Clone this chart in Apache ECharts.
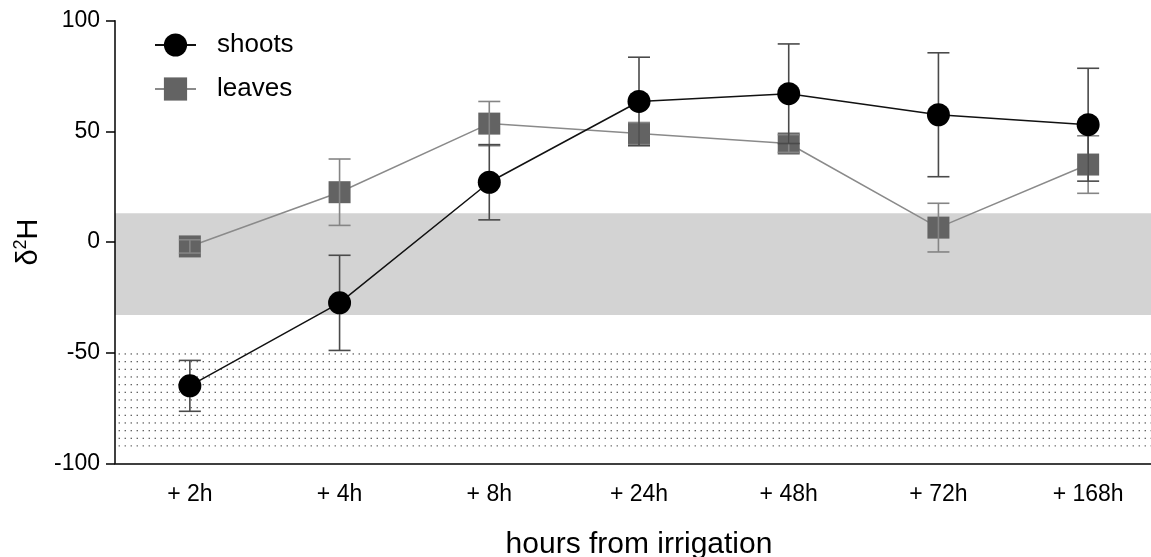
<!DOCTYPE html>
<html>
<head>
<meta charset="utf-8">
<script src="https://cdn.jsdelivr.net/npm/echarts@6/dist/echarts.min.js"></script>
<style>
  html, body { margin: 0; padding: 0; background: #fff; }
  #chart { width: 1151px; height: 557px; }
</style>
</head>
<body>
<div id="chart"></div>
<script>
// categories and values
var hours = ["+ 2h", "+ 4h", "+ 8h", "+ 24h", "+ 48h", "+ 72h", "+ 168h"];
var shoots = [-65, -27.5, 27, 63.5, 67, 57.5, 53];
var shootsErr = [11.5, 21.5, 17, 20, 22.5, 28, 25.5];
var leaves = [-2, 22.5, 53.5, 49, 44.5, 6.5, 35];
var leavesErr = [3, 15, 10, 5, 4, 11, 13];
// shaded ranges on the y axis
var grayBand = [13, -33];
var dottedBand = [-50, -92.5];
var yTicks = [-100, -50, 0, 50, 100];

var FONT = "Liberation Sans, Arial, sans-serif";

// dot pattern for the lower band
function dotPattern() {
  var c = document.createElement("canvas");
  c.width = 6;
  c.height = 23;
  var ctx = c.getContext("2d");
  ctx.fillStyle = "#555";
  [0.7, 8.3, 16].forEach(function (y) {
    ctx.fillRect(4.6, y, 1.3, 1.3);
  });
  return c;
}

function errData(mean, err) {
  var out = [];
  for (var i = 0; i < mean.length; i++) {
    out.push([i, mean[i] - err[i], mean[i] + err[i]]);
  }
  return out;
}

function errRenderer(color, width) {
  return function (params, api) {
    var x = api.value(0);
    var lo = api.coord([x, api.value(1)]);
    var hi = api.coord([x, api.value(2)]);
    var half = 11;
    var style = { stroke: color, lineWidth: width };
    return {
      type: "group",
      children: [
        { type: "line", shape: { x1: hi[0], y1: hi[1], x2: lo[0], y2: lo[1] }, style: style },
        { type: "line", shape: { x1: hi[0] - half, y1: hi[1], x2: hi[0] + half, y2: hi[1] }, style: style },
        { type: "line", shape: { x1: lo[0] - half, y1: lo[1], x2: lo[0] + half, y2: lo[1] }, style: style }
      ]
    };
  };
}

var myChart = echarts.init(document.getElementById("chart"));
myChart.setOption({
  animation: false,
  backgroundColor: "#fff",
  textStyle: { fontFamily: FONT },
  legend: {
    data: ["shoots", "leaves"],
    orient: "vertical",
    left: 149,
    top: 27,
    itemWidth: 41,
    itemHeight: 29,
    itemGap: 18,
    textStyle: { fontSize: 26, color: "#000", fontFamily: FONT, padding: [0, 0, 0, 16] }
  },
  grid: {
    left: 115,
    top: 20.7,
    width: 1048,
    height: 442.6,
    outerBoundsMode: "none"
  },
  xAxis: {
    type: "category",
    data: hours,
    boundaryGap: true,
    name: "hours from irrigation",
    nameLocation: "middle",
    nameGap: 66,
    nameTextStyle: { fontSize: 30, color: "#000", fontFamily: FONT },
    axisLine: { onZero: false, lineStyle: { color: "#000", width: 1.5 } },
    axisTick: { alignWithLabel: true, length: 9, lineStyle: { color: "#000", width: 1.5 } },
    axisLabel: { fontSize: 23, color: "#000", margin: 20, fontFamily: FONT },
    splitLine: { show: false }
  },
  yAxis: {
    type: "value",
    min: yTicks[0],
    max: yTicks[yTicks.length - 1],
    interval: 50,
    name: "{a|δ}{sup|2}{a|H}",
    nameLocation: "middle",
    nameRotate: 90,
    nameGap: 67,
    nameTextStyle: {
      rich: {
        a: { fontSize: 29, color: "#000", fontFamily: FONT, lineHeight: 33 },
        sup: { fontSize: 18, color: "#000", fontFamily: FONT, verticalAlign: "top", lineHeight: 18 }
      }
    },
    axisLine: { show: true, lineStyle: { color: "#000", width: 1.5 } },
    axisTick: { show: true, length: 9, lineStyle: { color: "#000", width: 1.5 } },
    axisLabel: { fontSize: 23, color: "#000", margin: 15, fontFamily: FONT },
    splitLine: { show: false }
  },
  series: [
    {
      name: "leaves",
      type: "line",
      data: leaves,
      z: 2,
      symbol: "rect",
      symbolSize: 22,
      itemStyle: { color: "#636363" },
      lineStyle: { color: "#8a8a8a", width: 1.5 },
      markArea: {
        silent: true,
        z: 0,
        data: [
          [{ yAxis: grayBand[0], itemStyle: { color: "#d3d3d3" } }, { yAxis: grayBand[1] }],
          [{ yAxis: dottedBand[0], itemStyle: { color: { image: dotPattern(), repeat: "repeat" } } }, { yAxis: dottedBand[1] }]
        ]
      }
    },
    {
      name: "leavesErr",
      type: "custom",
      z: 3,
      data: errData(leaves, leavesErr),
      encode: { x: 0, y: [1, 2] },
      renderItem: errRenderer("#858585", 1.6)
    },
    {
      name: "shootsErr",
      type: "custom",
      z: 4,
      data: errData(shoots, shootsErr),
      encode: { x: 0, y: [1, 2] },
      renderItem: errRenderer("#4a4a4a", 1.6)
    },
    {
      name: "shoots",
      type: "line",
      data: shoots,
      z: 5,
      symbol: "circle",
      symbolSize: 23,
      itemStyle: { color: "#000" },
      lineStyle: { color: "#111", width: 1.5 }
    }
  ]
});
</script>
</body>
</html>
